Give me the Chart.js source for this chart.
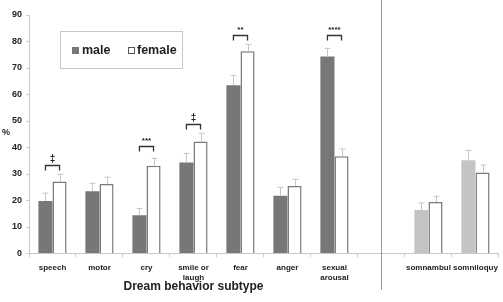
<!DOCTYPE html>
<html>
<head>
<meta charset="utf-8">
<script src="https://cdn.jsdelivr.net/npm/chart.js@4"></script>
<style>
  html, body { margin: 0; padding: 0; background: #fff; }
  #wrap { width: 503px; height: 302px; position: relative; }
</style>
</head>
<body>
<div id="wrap"><canvas id="chart"></canvas></div>
<script>
const categories = ["speech", "motor", "cry", ["smile or", "laugh"], "fear", "anger", ["sexual", "arousal"], "", "somnambul", "somniloquy"];
const maleValues = [19.8, 23.5, 14.4, 34.3, 63.5, 21.8, 74.3, null, 16.4, 35.2];
const maleErrors = [3.0, 3.0, 2.6, 3.5, 3.7, 3.2, 3.1, null, 2.7, 3.7];
const femaleValues = [27.2, 26.2, 33.1, 42.3, 76.3, 25.5, 36.7, null, 19.4, 30.6];
const femaleErrors = [2.7, 2.6, 2.8, 3.1, 2.6, 2.5, 2.7, null, 2.2, 2.8];
const sigLabels = ["‡", "", "***", "‡", "**", "", "****", "", "", ""];
const sigLevels = [33.5, null, 40.7, 49, 82.6, null, 82.3, null, null, null];
const yMin = 0;
const yMax = 90;
const yStep = 10;

const FONT = "'Liberation Sans', Arial, sans-serif";
const maleColors = categories.map((c, i) => (i >= 8 ? "#c4c4c4" : "#777777"));

// error bars, significance brackets, separator, legend box and axis titles
const extras = {
  id: "extras",
  afterDatasetsDraw(chart) {
    const ctx = chart.ctx;
    const x = chart.scales.x;
    const y = chart.scales.y;
    const errs = [maleErrors, femaleErrors];
    const vals = [maleValues, femaleValues];

    ctx.save();
    ctx.strokeStyle = "#c6c6c6";
    ctx.lineWidth = 1;
    [0, 1].forEach((d) => {
      chart.getDatasetMeta(d).data.forEach((bar, i) => {
        if (vals[d][i] == null) return;
        const top = y.getPixelForValue(vals[d][i] + errs[d][i]);
        const bx = Math.round(bar.x) + 0.5;
        ctx.beginPath();
        ctx.moveTo(bx, bar.y);
        ctx.lineTo(bx, top);
        ctx.moveTo(bx - 3, top);
        ctx.lineTo(bx + 3, top);
        ctx.stroke();
      });
    });

    // brackets
    const m0 = chart.getDatasetMeta(0).data;
    const m1 = chart.getDatasetMeta(1).data;
    ctx.strokeStyle = "#333";
    ctx.lineWidth = 1.3;
    ctx.fillStyle = "#222";
    ctx.textAlign = "center";
    ctx.textBaseline = "bottom";
    sigLevels.forEach((lv, i) => {
      if (lv == null) return;
      const by = Math.round(y.getPixelForValue(lv)) + 0.5;
      const x0 = m0[i].x, x1 = m1[i].x;
      ctx.beginPath();
      ctx.moveTo(x0, by + 5);
      ctx.lineTo(x0, by);
      ctx.lineTo(x1, by);
      ctx.lineTo(x1, by + 5);
      ctx.stroke();
      const isDagger = sigLabels[i] === "‡";
      ctx.font = (isDagger ? "bold 10px " : "bold 8px ") + FONT;
      ctx.fillText(sigLabels[i], (x0 + x1) / 2, by - (isDagger ? 1 : 2));
    });

    // separator between the two groups
    const sx = Math.round(x.getPixelForValue(7)) + 0.5;
    ctx.strokeStyle = "#999";
    ctx.lineWidth = 1;
    ctx.beginPath();
    ctx.moveTo(sx, 0);
    ctx.lineTo(sx, 290);
    ctx.stroke();

    // legend box
    ctx.strokeStyle = "#c8c8c8";
    ctx.strokeRect(60.5, 31.5, 122, 37);
    ctx.fillStyle = "#777777";
    ctx.fillRect(72, 47, 7, 7);
    ctx.fillStyle = "#fff";
    ctx.fillRect(128, 47, 7, 7);
    ctx.strokeStyle = "#555";
    ctx.strokeRect(128.5, 47.5, 6, 6);
    ctx.fillStyle = "#222";
    ctx.font = "bold 12.5px " + FONT;
    ctx.textAlign = "left";
    ctx.textBaseline = "middle";
    ctx.fillText(chart.data.datasets[0].label, 82, 51);
    ctx.fillText(chart.data.datasets[1].label, 137, 51);

    // axis titles
    ctx.font = "bold 9px " + FONT;
    ctx.fillText("%", 2, 133);
    ctx.font = "bold 12px " + FONT;
    ctx.textAlign = "center";
    ctx.fillText("Dream behavior subtype", x.getPixelForValue(3), 287);
    ctx.restore();
  }
};

new Chart(document.getElementById("chart"), {
  type: "bar",
  data: {
    labels: categories,
    datasets: [
      {
        label: "male",
        data: maleValues,
        backgroundColor: maleColors,
        borderColor: maleColors,
        borderWidth: 0
      },
      {
        label: "female",
        data: femaleValues,
        backgroundColor: "#ffffff",
        borderColor: "#7a7a7a",
        borderWidth: 1.5
      }
    ]
  },
  options: {
    responsive: true,
    maintainAspectRatio: false,
    animation: false,
    layout: { padding: { top: 15, right: 2, left: 0, bottom: 0 } },
    plugins: {
      legend: { display: false },
      tooltip: { enabled: false }
    },
    datasets: {
      bar: { categoryPercentage: 0.6, barPercentage: 1.0 }
    },
    scales: {
      x: {
        grid: { drawOnChartArea: false, drawTicks: true, tickLength: 4, color: "#d0d0d0", offset: true },
        border: { color: "#c8c8c8" },
        ticks: {
          color: "#222",
          font: { family: FONT, size: 8, weight: "bold", lineHeight: 1.25 },
          padding: 5,
          maxRotation: 0,
          autoSkip: false
        },
        afterFit(scale) { scale.height = 48.5; }
      },
      y: {
        min: yMin,
        max: yMax,
        grid: { drawOnChartArea: false, drawTicks: true, tickLength: 3, color: "#d0d0d0" },
        border: { color: "#c8c8c8" },
        ticks: {
          stepSize: yStep,
          color: "#222",
          font: { family: FONT, size: 9, weight: "bold" },
          padding: 4
        },
        afterFit(scale) { scale.width = 29; }
      }
    }
  },
  plugins: [extras]
});
</script>
</body>
</html>
